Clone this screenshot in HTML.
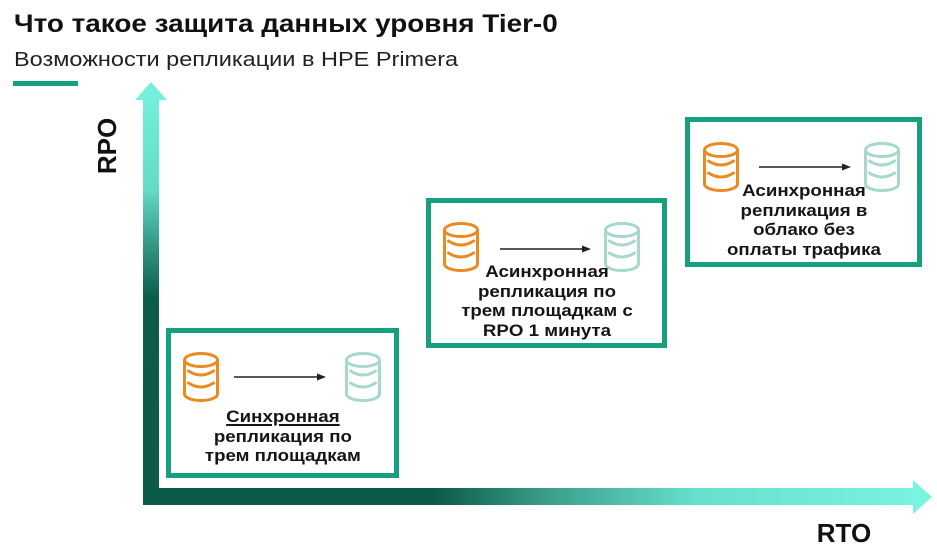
<!DOCTYPE html>
<html><head><meta charset="utf-8">
<style>
html,body{margin:0;padding:0;background:#fff;}
body{width:937px;height:548px;position:relative;overflow:hidden;font-family:"Liberation Sans","Noto Sans CJK SC",sans-serif;color:#111;}
.abs{position:absolute;}
.title{left:14px;top:12px;font-size:25px;line-height:25px;font-weight:bold;white-space:nowrap;transform-origin:0 0;transform:scaleX(1.115);color:#111;}
.sub{left:14px;top:50px;font-size:20px;line-height:20px;white-space:nowrap;transform-origin:0 0;transform:scaleX(1.175);color:#222;}
.box{position:absolute;border:5px solid #17a07f;box-sizing:border-box;background:#fff;}
.txt{position:absolute;font-size:17px;line-height:19.5px;font-weight:bold;text-align:center;white-space:nowrap;color:#151515;}
.txt span.in{display:inline-block;transform:scaleX(1.1);}
.ax{font-size:26px;font-weight:bold;line-height:26px;text-align:center;white-space:nowrap;color:#111;}
</style></head><body>

<div class="abs title">Что такое защита данных уровня Tier-0</div>
<div class="abs sub">Возможности репликации в HPE Primera</div>

<svg class="abs" style="left:0;top:0" width="937" height="548" viewBox="0 0 937 548">
  <defs>
    <linearGradient id="gv" gradientUnits="userSpaceOnUse" x1="0" y1="505" x2="0" y2="82">
      <stop offset="0" stop-color="#0b5a4a"/>
      <stop offset="0.49" stop-color="#0c5c4b"/>
      <stop offset="0.6" stop-color="#2f8f7c"/>
      <stop offset="0.745" stop-color="#62dcc6"/>
      <stop offset="1" stop-color="#76f2de"/>
    </linearGradient>
    <linearGradient id="gh" gradientUnits="userSpaceOnUse" x1="143" y1="0" x2="932" y2="0">
      <stop offset="0" stop-color="#0b5a4a"/>
      <stop offset="0.37" stop-color="#0c5a4a"/>
      <stop offset="0.51" stop-color="#3a9d89"/>
      <stop offset="0.7" stop-color="#66e0cb"/>
      <stop offset="1" stop-color="#7af4e0"/>
    </linearGradient>
    <symbol id="db" viewBox="0 0 38 50">
      <g fill="none" stroke-width="3" stroke-linecap="round">
        <ellipse cx="19" cy="8" rx="16.5" ry="6.5"/>
        <path d="M2.5 8 V42 A16.5 6.5 0 0 0 35.5 42 V8"/>
        <path d="M6.5 19 Q19 27 31.5 19"/>
        <path d="M6.5 31 Q19 39 31.5 31"/>
      </g>
    </symbol>
  </defs>

  <!-- green underline bar -->
  <rect x="13" y="81" width="65" height="5" fill="#17a07f"/>

  <!-- axes -->
  <rect x="143" y="99" width="16" height="406" fill="url(#gv)"/>
  <polygon points="135,100 151,82 167,100" fill="#74f0dc"/>
  <rect x="143" y="488" width="771" height="17" fill="url(#gh)"/>
  <polygon points="913,480 932,497 913,514" fill="#7af4e0"/>
</svg>

<div class="abs ax" style="left:67px;top:133px;width:80px;transform:rotate(-90deg);">RPO</div>
<div class="abs ax" style="left:804px;top:520px;width:80px;">RTO</div>

<!-- Box 1 -->
<div class="box" style="left:166px;top:328px;width:233px;height:150px;"></div>
<!-- Box 2 -->
<div class="box" style="left:426px;top:198px;width:241px;height:150px;"></div>
<!-- Box 3 -->
<div class="box" style="left:685px;top:117px;width:237px;height:150px;"></div>

<svg class="abs" style="left:0;top:0" width="937" height="548" viewBox="0 0 937 548">
  <!-- box1 icons -->
  <use href="#db" x="182" y="352" width="38" height="50" stroke="#e98b22"/>
  <use href="#db" x="344" y="352" width="38" height="50" stroke="#a7d8cc"/>
  <line x1="234" y1="377" x2="318" y2="377" stroke="#222" stroke-width="1.5"/>
  <polygon points="317,373.5 326,377 317,380.5" fill="#222"/>
  <!-- box2 icons -->
  <use href="#db" x="442" y="222" width="38" height="50" stroke="#e98b22"/>
  <use href="#db" x="603" y="222" width="38" height="50" stroke="#a7d8cc"/>
  <line x1="500" y1="249" x2="583" y2="249" stroke="#222" stroke-width="1.5"/>
  <polygon points="582,245.5 591,249 582,252.5" fill="#222"/>
  <!-- box3 icons -->
  <use href="#db" x="702" y="142" width="38" height="50" stroke="#e98b22"/>
  <use href="#db" x="863" y="142" width="38" height="50" stroke="#a7d8cc"/>
  <line x1="759" y1="167" x2="843" y2="167" stroke="#222" stroke-width="1.5"/>
  <polygon points="842,163.5 851,167 842,170.5" fill="#222"/>
</svg>

<div class="txt" style="left:166px;top:407px;width:233px;">
  <span class="in"><span style="text-decoration:underline;text-decoration-thickness:1.5px;text-underline-offset:2px;">Синхронная</span><br>репликация по<br>трем площадкам</span>
</div>
<div class="txt" style="left:426px;top:262px;width:241px;">
  <span class="in">Асинхронная<br>репликация по<br>трем площадкам с<br>RPO 1 минута</span>
</div>
<div class="txt" style="left:685px;top:181px;width:237px;">
  <span class="in">Асинхронная<br>репликация в<br>облако без<br>оплаты трафика</span>
</div>

</body></html>
